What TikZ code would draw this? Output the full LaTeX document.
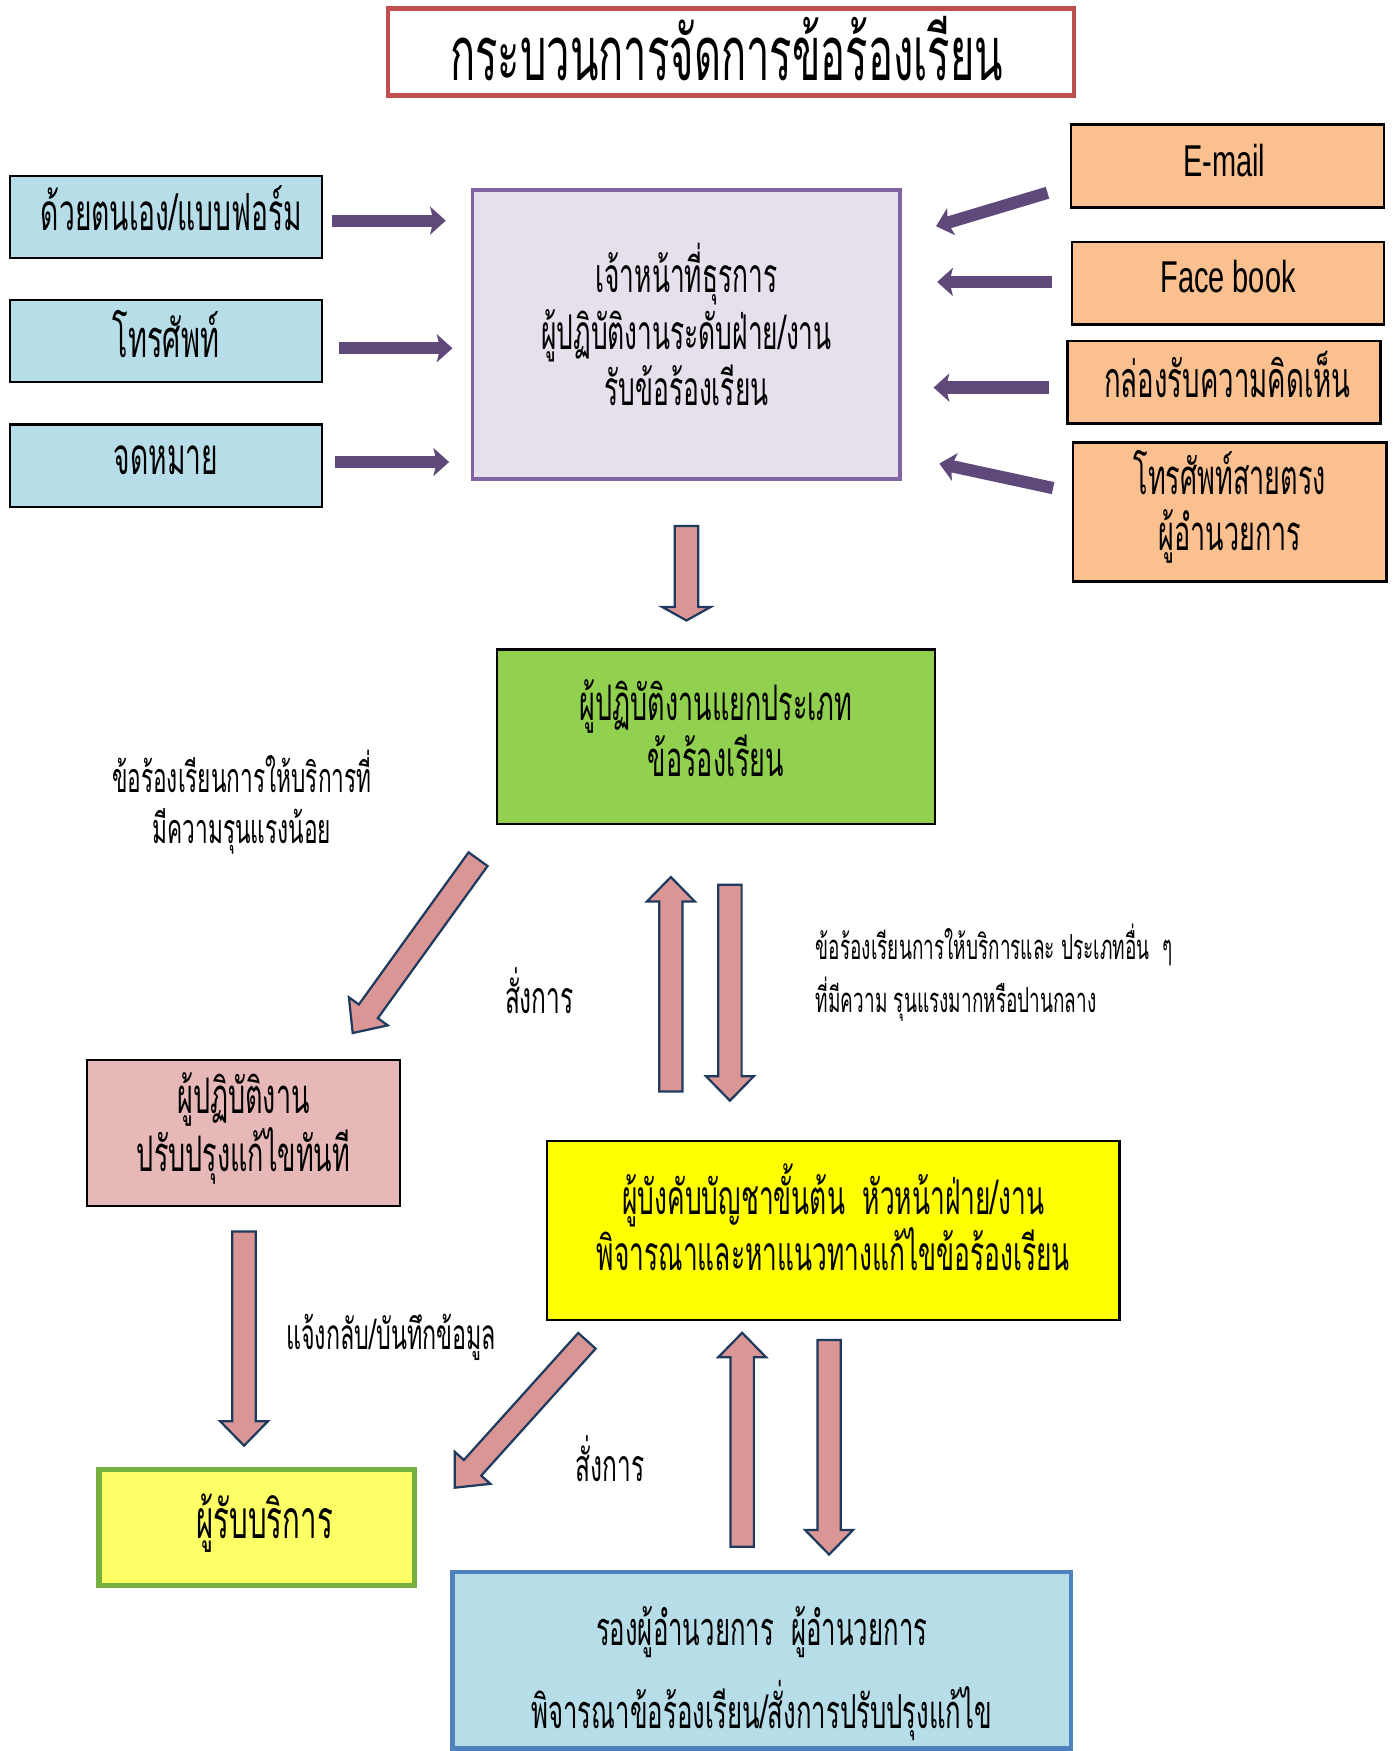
\documentclass[tikz,border=0pt]{standalone}
\usepackage{fontspec}
\usetikzlibrary{calc,arrows.meta}
\newfontfamily\thai[Script=Thai,FakeStretch=0.55]{Loma}
\newfontfamily\latn[FakeStretch=0.65]{Liberation Sans}
\definecolor{purp}{HTML}{5F497A}
\definecolor{cfill}{HTML}{E5E0EC}
\definecolor{cdraw}{HTML}{8064A2}
\definecolor{bfill}{HTML}{B7DDE8}
\definecolor{ofill}{HTML}{FAC090}
\definecolor{parrfill}{HTML}{D99694}
\definecolor{parrdraw}{HTML}{1F3A5F}
\definecolor{gfill}{HTML}{92D050}
\definecolor{pkfill}{HTML}{E6B9B8}
\definecolor{yfill}{HTML}{FFFF00}
\definecolor{clfill}{HTML}{FFFF66}
\definecolor{cldraw}{HTML}{76B041}
\definecolor{bbdraw}{HTML}{4F81BD}
\definecolor{tdraw}{HTML}{C0504D}
\newcommand{\tf}[2]{\thai\fontsize{#1}{#2}\selectfont}
\tikzset{
  box/.style={draw=black, line width=2.2pt, inner sep=0pt},
  txt/.style={inner sep=0pt, align=center, font=\tf{42}{50}},
  titlebox/.style={draw=tdraw, line width=4pt, fill=white, inner sep=0pt},
  purparr/.style={draw=purp, line width=11pt, -{Stealth[length=14pt,width=25pt,inset=3pt]}},
  pinkarr/.style={fill=parrfill, draw=parrdraw, line width=2pt, line join=miter},
  lbl/.style={inner sep=0pt, align=center, font=\tf{37}{46}},
  smalllbl/.style={inner sep=0pt, align=left, font=\tf{31}{48}},
  cmd/.style={inner sep=0pt, font=\tf{40}{50}},
}
% #1 tail, #2 tip, #3 half shaft width, #4 head length
\newcommand{\blockarr}[4]{%
  \draw[pinkarr] ($(#1)!#3!90:(#2)$) -- ($(#2)!#4!(#1)!#3!-90:(#1)$)
    -- ($(#2)!#4!(#1)!21.5pt!-90:(#1)$) -- (#2)
    -- ($(#2)!#4!(#1)!21.5pt!90:(#1)$) -- ($(#2)!#4!(#1)!#3!90:(#1)$)
    -- ($(#1)!#3!-90:(#2)$) -- cycle;}
\begin{document}
\begin{tikzpicture}[x=1pt,y=1pt]
\path[use as bounding box, fill=white] (0,0) rectangle (1250,-1571.3);

% title
\node[titlebox, minimum width=616pt, minimum height=78pt] (title) at (656,-46.5) {};
\node[txt, font=\tf{68}{80}] (titletxt) at ([xshift=-4pt,yshift=3pt]title.center) {กระบวนการจัดการข้อร้องเรียน};

% left channels
\node[box, fill=bfill, minimum width=280pt, minimum height=73.5pt] (self) at (149,-194.75) {};
\node[box, fill=bfill, minimum width=280pt, minimum height=74pt] (phone) at (149,-306) {};
\node[box, fill=bfill, minimum width=280pt, minimum height=74pt] (letter) at (149,-418) {};
\node[txt, font=\tf{46}{50}] (selftxt) at ([xshift=5pt,yshift=8pt]self.center) {ด้วยตนเอง/แบบฟอร์ม};
\node[txt, font=\tf{47}{50}] (phonetxt) at ([yshift=6pt]phone.center) {โทรศัพท์};
\node[txt, font=\tf{46}{50}] (lettertxt) at ([yshift=5pt]letter.center) {จดหมาย};

% centre box
\node[box, draw=cdraw, line width=3.5pt, fill=cfill, minimum width=384pt, minimum height=259.5pt] (staff) at (616,-300.25) {};
\node[txt, font=\tf{43}{50.5}] (stafftxt) at ([yshift=9pt]staff.center)
  {เจ้าหน้าที่ธุรการ\\ผู้ปฏิบัติงานระดับฝ่าย/งาน\\รับข้อร้องเรียน};

% right channels
\node[box, fill=ofill, minimum width=281pt, minimum height=74.3pt] (email) at (1101.5,-148.85) {};
\node[box, fill=ofill, minimum width=280pt, minimum height=74pt] (fb) at (1102,-254) {};
\node[box, fill=ofill, minimum width=281pt, minimum height=74pt] (cbox) at (1098.5,-343) {};
\node[box, fill=ofill, minimum width=281pt, minimum height=125pt] (direct) at (1103.5,-459.5) {};
\node[txt, font=\latn\fontsize{40}{50}\selectfont] (emailtxt) at ([xshift=-3pt,yshift=5pt]email.center) {E-mail};
\node[txt, font=\latn\fontsize{40}{50}\selectfont] (fbtxt) at ([yshift=6pt]fb.center) {Face book};
\node[txt, font=\tf{45}{50}] (cboxtxt) at ([xshift=3pt,yshift=7pt]cbox.center) {กล่องรับความคิดเห็น};
\node[txt, font=\tf{44}{50}] (directtxt) at ([yshift=5pt]direct.center) {โทรศัพท์สายตรง\\ผู้อำนวยการ};

% purple arrows
\coordinate (p1t) at (298,-198);   \coordinate (p1h) at (400,-198);
\coordinate (p2t) at (304,-312.5); \coordinate (p2h) at (406,-312.5);
\coordinate (p3t) at (301,-414.6); \coordinate (p3h) at (403,-414.6);
\coordinate (q1t) at (940,-173);   \coordinate (q1h) at (840,-203);
\coordinate (q2t) at (943.7,-253); \coordinate (q2h) at (841,-253);
\coordinate (q3t) at (941,-347.8); \coordinate (q3h) at (837.8,-347.8);
\coordinate (q4t) at (945,-438);   \coordinate (q4h) at (843,-416);
\foreach \a in {p1,p2,p3,q1,q2,q3,q4} {\draw[purparr] (\a t) -- (\a h);}

% green box
\node[box, fill=gfill, minimum width=393pt, minimum height=156.5pt] (sort) at (642.5,-661.25) {};
\node[txt, font=\tf{44}{50}] (sorttxt) at ([yshift=8pt]sort.center) {ผู้ปฏิบัติงานแยกประเภท\\ข้อร้องเรียน};

% pink box
\node[box, fill=pkfill, minimum width=281pt, minimum height=131pt] (fix) at (218.5,-1016.85) {};
\node[txt, font=\tf{44}{49}] (fixtxt) at ([yshift=4pt]fix.center) {ผู้ปฏิบัติงาน\\ปรับปรุงแก้ไขทันที};

% yellow box
\node[box, fill=yfill, minimum width=513.6pt, minimum height=161pt] (head) at (747.8,-1104.15) {};
\node[txt, font=\tf{43}{50}] (headtxt) at ([yshift=12pt]head.center) {ผู้บังคับบัญชาขั้นต้น\ \ หัวหน้าฝ่าย/งาน\\พิจารณาและหาแนวทางแก้ไขข้อร้องเรียน};

% client box
\node[box, draw=cldraw, line width=5pt, fill=clfill, minimum width=283pt, minimum height=104pt] (client) at (230.5,-1370.7) {};
\node[txt, font=\tf{48}{50}] (clienttxt) at ([xshift=7pt,yshift=4pt]client.center) {ผู้รับบริการ};

% bottom box
\node[box, draw=bbdraw, line width=4pt, fill=bfill, minimum width=555pt, minimum height=158.2pt] (dir) at (683.5,-1489.9) {};
\node[txt, font=\tf{42}{75}] (dirtxt) at ([yshift=-12pt]dir.center) {รองผู้อำนวยการ\ \ ผู้อำนวยการ\\พิจารณาข้อร้องเรียน/สั่งการปรับปรุงแก้ไข};

% labels
\node[lbl] (lowlbl) at (217,-720) {ข้อร้องเรียนการให้บริการที่\\มีความรุนแรงน้อย};
\node[smalllbl, anchor=west] (hilbl) at (732,-873) {ข้อร้องเรียนการให้บริการและ ประเภทอื่น\ \ ๆ\\ที่มีความ รุนแรงมากหรือปานกลาง};
\node[cmd] (cmd1) at (484,-889) {สั่งการ};
\node[cmd, font=\tf{38}{48}] (fbl) at (351,-1200) {แจ้งกลับ/บันทึกข้อมูล};
\node[cmd] (cmd2) at (547.5,-1309) {สั่งการ};

% pink block arrows
\coordinate (a1t) at (616,-472);     \coordinate (a1h) at (616,-556.8);
\coordinate (a2t) at (429,-771);     \coordinate (a2h) at (316.5,-927);
\coordinate (a3t) at (602,-979.5);   \coordinate (a3h) at (602,-787);
\coordinate (a4t) at (655,-794);     \coordinate (a4h) at (655,-987.7);
\coordinate (a5t) at (219,-1105);    \coordinate (a5h) at (219,-1297.3);
\coordinate (a6t) at (526.7,-1203.2);\coordinate (a6h) at (408,-1335);
\coordinate (a7t) at (666,-1388);    \coordinate (a7h) at (666,-1196);
\coordinate (a8t) at (744,-1202.4);  \coordinate (a8h) at (744,-1395);
\blockarr{a1t}{a1h}{10.5pt}{12pt}
\blockarr{a2t}{a2h}{10.5pt}{24pt}
\blockarr{a3t}{a3h}{10.5pt}{22pt}
\blockarr{a4t}{a4h}{10.5pt}{22pt}
\blockarr{a5t}{a5h}{10.5pt}{22pt}
\blockarr{a6t}{a6h}{10.5pt}{24pt}
\blockarr{a7t}{a7h}{10.5pt}{22pt}
\blockarr{a8t}{a8h}{10.5pt}{22pt}
\end{tikzpicture}
\end{document}
